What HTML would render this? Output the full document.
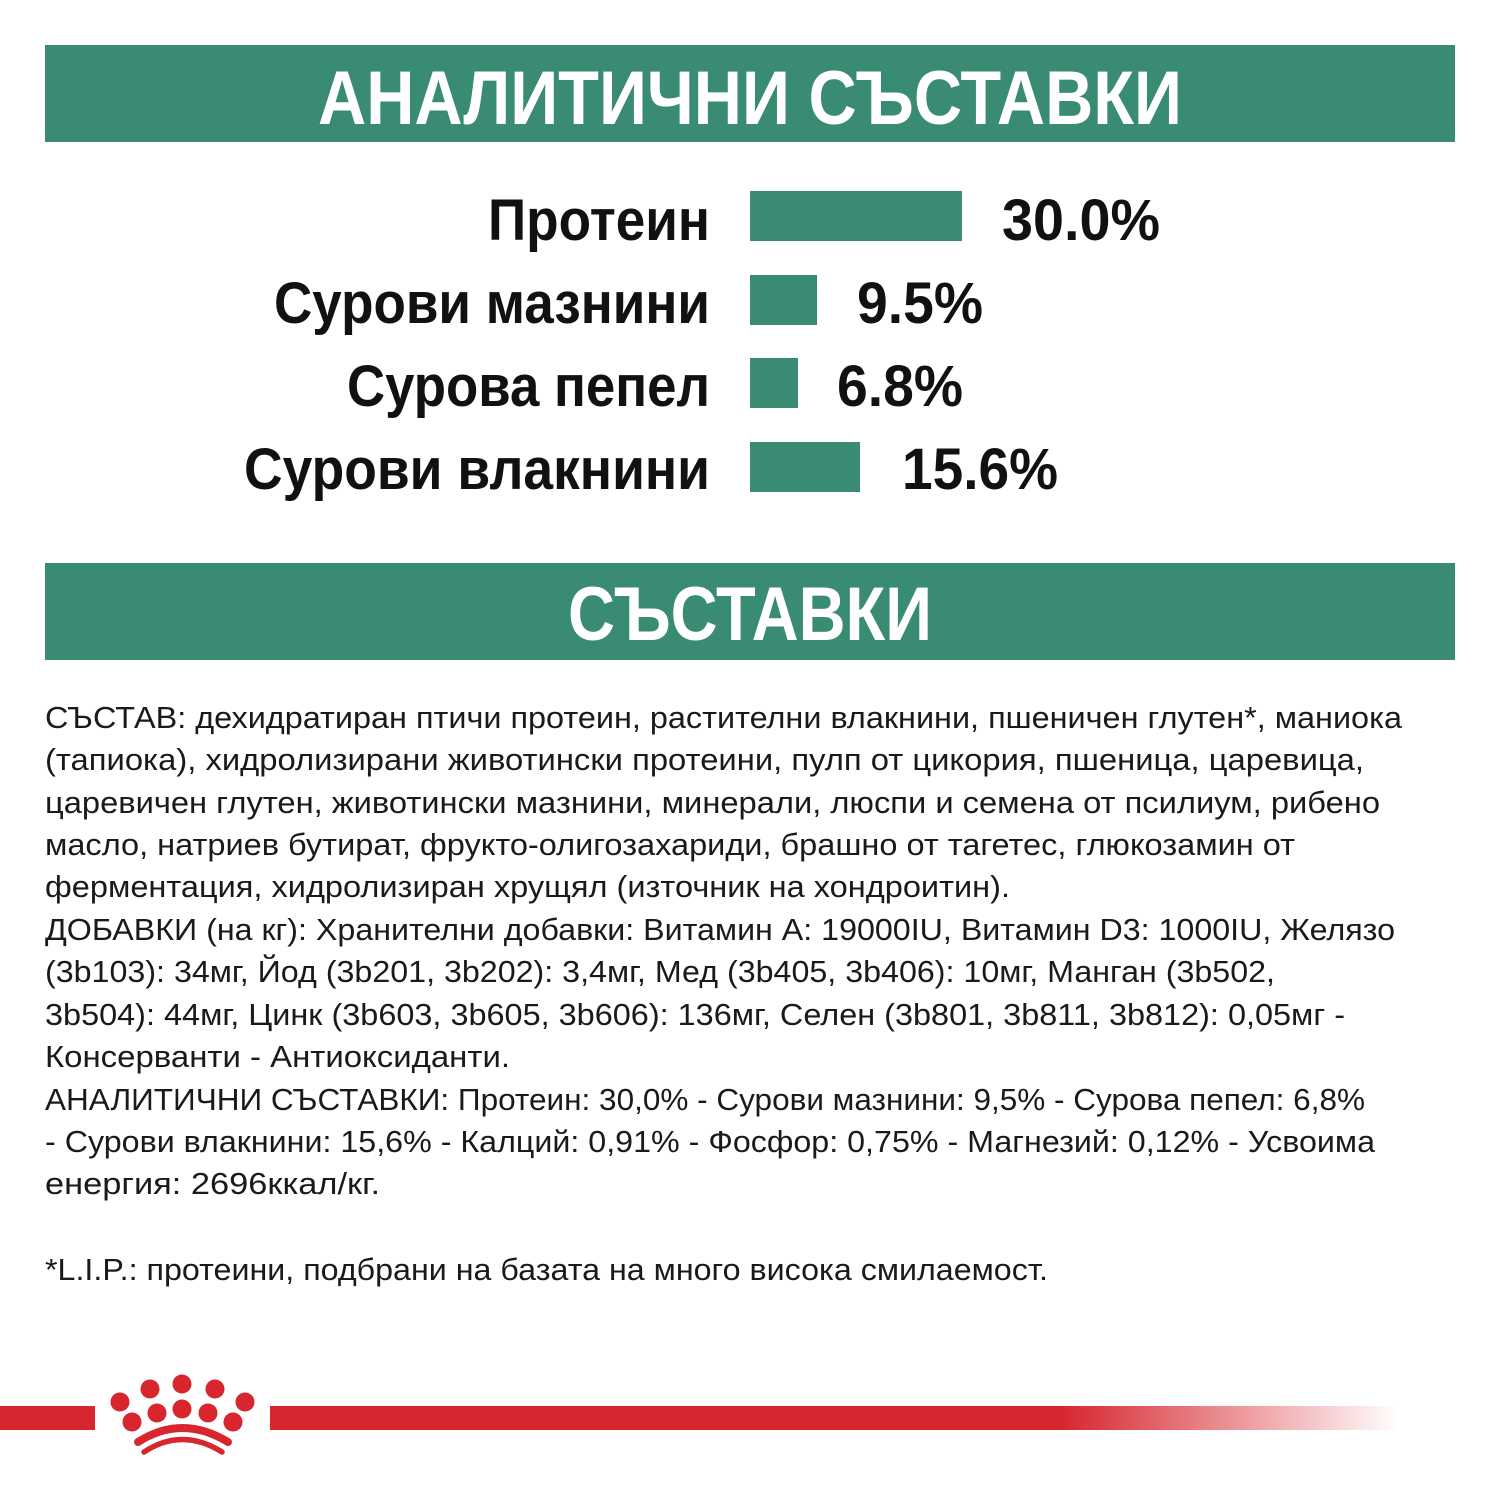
<!DOCTYPE html>
<html><head><meta charset="utf-8"><style>html,body{margin:0;padding:0;background:#fff}svg{display:block}</style></head>
<body>
<svg width="1500" height="1500" viewBox="0 0 1500 1500" xmlns="http://www.w3.org/2000/svg">
<defs>
<linearGradient id="fade" x1="0" x2="1">
<stop offset="0" stop-color="#d7262e"/><stop offset="0.7" stop-color="#d7262e"/><stop offset="1" stop-color="#d7262e" stop-opacity="0"/>
</linearGradient>
</defs>
<rect width="1500" height="1500" fill="#fff"/>
<rect x="45" y="45" width="1410" height="97" fill="#3a8b73"/>
<rect x="45" y="563" width="1410" height="97" fill="#3a8b73"/>
<g font-family="Liberation Sans, sans-serif" font-weight="bold" fill="#fff" font-size="76">
<text x="318" y="124" textLength="864" lengthAdjust="spacingAndGlyphs">АНАЛИТИЧНИ СЪСТАВКИ</text>
<text x="568" y="640" textLength="364" lengthAdjust="spacingAndGlyphs">СЪСТАВКИ</text>
</g>
<g fill="#3a8b73">
<rect x="750" y="191" width="212" height="50"/>
<rect x="750" y="275" width="67" height="50"/>
<rect x="750" y="358" width="48" height="50"/>
<rect x="750" y="442" width="110" height="50"/>
</g>
<g font-family="Liberation Sans, sans-serif" font-weight="bold" fill="#111" font-size="58">
<text x="488" y="240" textLength="222" lengthAdjust="spacingAndGlyphs">Протеин</text>
<text x="274" y="323" textLength="436" lengthAdjust="spacingAndGlyphs">Сурови мазнини</text>
<text x="347" y="406" textLength="363" lengthAdjust="spacingAndGlyphs">Сурова пепел</text>
<text x="244" y="489" textLength="466" lengthAdjust="spacingAndGlyphs">Сурови влакнини</text>
<text x="1002" y="240" textLength="158" lengthAdjust="spacingAndGlyphs">30.0%</text>
<text x="857" y="323" textLength="126" lengthAdjust="spacingAndGlyphs">9.5%</text>
<text x="837" y="406" textLength="126" lengthAdjust="spacingAndGlyphs">6.8%</text>
<text x="902" y="489" textLength="156" lengthAdjust="spacingAndGlyphs">15.6%</text>
</g>
<g font-family="Liberation Sans Narrow, Liberation Sans, sans-serif" fill="#1a1a1a" font-size="31">
<text x="45" y="728" textLength="1357" lengthAdjust="spacingAndGlyphs">СЪСТАВ: дехидратиран птичи протеин, растителни влакнини, пшеничен глутен*, маниока</text>
<text x="45" y="770" textLength="1319" lengthAdjust="spacingAndGlyphs">(тапиока), хидролизирани животински протеини, пулп от цикория, пшеница, царевица,</text>
<text x="45" y="813" textLength="1335" lengthAdjust="spacingAndGlyphs">царевичен глутен, животински мазнини, минерали, люспи и семена от псилиум, рибено</text>
<text x="45" y="855" textLength="1250" lengthAdjust="spacingAndGlyphs">масло, натриев бутират, фрукто-олигозахариди, брашно от тагетес, глюкозамин от</text>
<text x="45" y="897" textLength="965" lengthAdjust="spacingAndGlyphs">ферментация, хидролизиран хрущял (източник на хондроитин).</text>
<text x="45" y="940" textLength="1350" lengthAdjust="spacingAndGlyphs">ДОБАВКИ (на кг): Хранителни добавки: Витамин A: 19000IU, Витамин D3: 1000IU, Желязо</text>
<text x="45" y="982" textLength="1230" lengthAdjust="spacingAndGlyphs">(3b103): 34мг, Йод (3b201, 3b202): 3,4мг, Мед (3b405, 3b406): 10мг, Манган (3b502,</text>
<text x="45" y="1025" textLength="1300" lengthAdjust="spacingAndGlyphs">3b504): 44мг, Цинк (3b603, 3b605, 3b606): 136мг, Селен (3b801, 3b811, 3b812): 0,05мг -</text>
<text x="45" y="1067" textLength="465" lengthAdjust="spacingAndGlyphs">Консерванти - Антиоксиданти.</text>
<text x="45" y="1110" textLength="1320" lengthAdjust="spacingAndGlyphs">АНАЛИТИЧНИ СЪСТАВКИ: Протеин: 30,0% - Сурови мазнини: 9,5% - Сурова пепел: 6,8%</text>
<text x="45" y="1152" textLength="1330" lengthAdjust="spacingAndGlyphs">- Сурови влакнини: 15,6% - Калций: 0,91% - Фосфор: 0,75% - Магнезий: 0,12% - Усвоима</text>
<text x="45" y="1194" textLength="335" lengthAdjust="spacingAndGlyphs">енергия: 2696ккал/кг.</text>
<text x="45" y="1280" textLength="1003" lengthAdjust="spacingAndGlyphs">*L.I.P.: протеини, подбрани на базата на много висока смилаемост.</text>
</g>
<rect x="0" y="1406" width="95" height="24" fill="#d7262e"/>
<rect x="270" y="1406" width="1130" height="24" fill="url(#fade)"/>
<g fill="#d7262e">
<circle cx="182" cy="1384" r="9.5"/>
<circle cx="150" cy="1389" r="9.5"/>
<circle cx="215" cy="1389" r="9.5"/>
<circle cx="120" cy="1402" r="9.5"/>
<circle cx="245" cy="1402" r="9.5"/>
<circle cx="132" cy="1422" r="9.5"/>
<circle cx="157" cy="1413" r="9.5"/>
<circle cx="182" cy="1409" r="9.5"/>
<circle cx="208" cy="1413" r="9.5"/>
<circle cx="233" cy="1422" r="9.5"/>
</g>
<g fill="none" stroke="#d7262e" stroke-linecap="round">
<path d="M138 1442 Q182 1414 228 1442" stroke-width="8"/>
<path d="M144 1452 Q182 1427 222 1452" stroke-width="5.5"/>
</g>
</svg>
</body></html>
